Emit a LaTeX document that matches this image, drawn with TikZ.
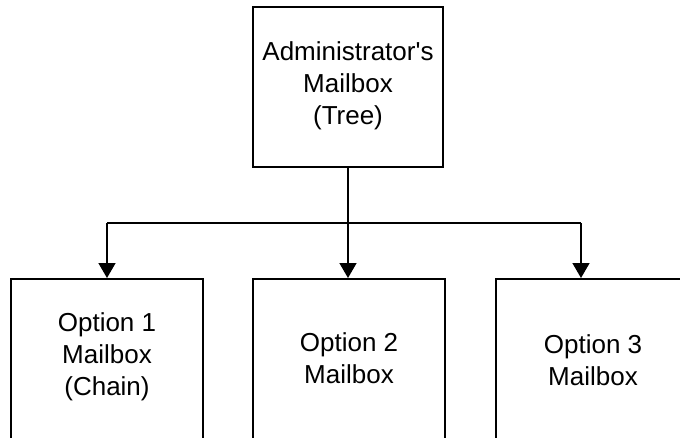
\documentclass[tikz,border=0pt]{standalone}
\usepackage{fontspec}
\setmainfont{Liberation Sans}
\usetikzlibrary{arrows.meta}
\begin{document}
\begin{tikzpicture}[x=1pt,y=-1pt,
  box/.style={draw=black, line width=1.5pt, rectangle, inner sep=0pt},
  txt/.style={align=center, inner sep=0pt, font=\fontsize{26}{32}\selectfont},
  conn/.style={draw=black, line width=1.5pt},
  arr/.style={conn, -{Triangle[width=17pt,length=15pt]}}]
\useasboundingbox (0,0) rectangle (680,437);
\clip (0,0) rectangle (680,437);
% top box
\node[box, minimum width=190pt, minimum height=160pt] (top) at (348,87) {};
\node[txt] (toptext) at (348,86) {Administrator\textquotesingle s\\Mailbox\\(Tree)};
% bottom boxes (cut off by the page)
\node[box, anchor=north, minimum width=192pt, minimum height=240pt] (b1) at (107,278) {};
\node[box, anchor=north, minimum width=192pt, minimum height=240pt] (b2) at (349,278) {};
\node[box, anchor=north, minimum width=194pt, minimum height=240pt] (b3) at (593,278) {};
\node[txt] (t1) at (107,357) {Option 1\\Mailbox\\(Chain)};
\node[txt] (t2) at (349,358) {Option 2\\Mailbox};
\node[txt] (t3) at (593,360) {Option 3\\Mailbox};
% connectors
\coordinate (j1) at (107,223);
\coordinate (j2) at (348,223);
\coordinate (j3) at (581,223);
\coordinate (e3) at (581,278);
\draw[conn] (top.south) -- (j2);
\draw[conn] (j1) -- (j3);
\draw[arr] (j1) -- (b1.north);
\draw[arr] (j2) -- (b2.north -| j2);
\draw[arr] (j3) -- (e3);
\end{tikzpicture}
\end{document}
